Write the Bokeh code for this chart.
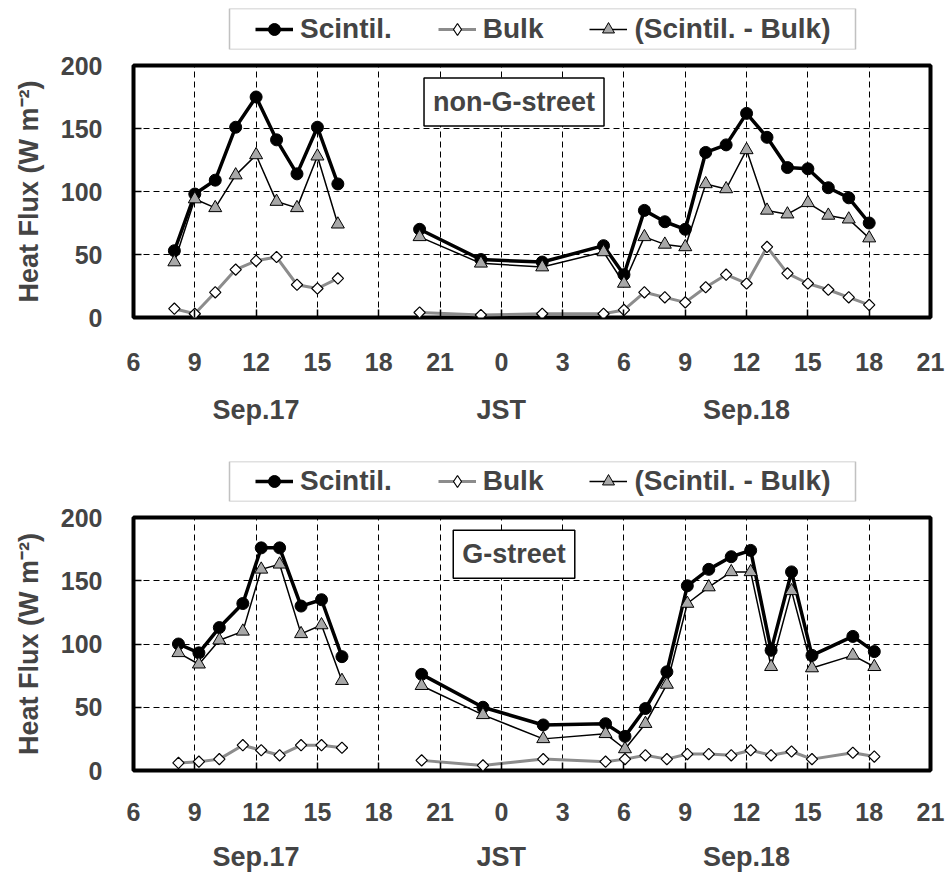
import numpy as np
from bokeh.plotting import figure
from bokeh.models import (FixedTicker, LinearAxis, Legend, LegendItem, Label, Range1d,
                          BoxAnnotation)
from bokeh.layouts import column
from bokeh.embed import file_html
from bokeh.resources import INLINE

NAN = np.nan

# ---- axis definitions (hours counted from Sep.17 00:00 JST) ----
hour_ticks = [6, 9, 12, 15, 18, 21, 24, 27, 30, 33, 36, 39, 42, 45]
hour_labels = ["6", "9", "12", "15", "18", "21", "0", "3", "6", "9", "12", "15", "18", "21"]
date_ticks = [12, 24, 36]
date_labels = ["Sep.17", "JST", "Sep.18"]
flux_ticks = [0, 50, 100, 150, 200]
series_names = ["Scintil.", "Bulk", "(Scintil. - Bulk)"]

# ---- non-G-street ----
ng_hour = [8, 9, 10, 11, 12, 13, 14, 15, 16, NAN,
           20, 23, 26, 29, 30, 31, 32, 33, 34, 35, 36, 37, 38, 39, 40, 41, 42]
ng_scintil = [53, 98, 109, 151, 175, 141, 114, 151, 106, NAN,
              70, 46, 44, 57, 34, 85, 76, 70, 131, 137, 162, 143, 119, 118, 103, 95, 75]
ng_bulk = [7, 3, 20, 38, 45, 48, 26, 23, 31, NAN,
           4, 2, 3, 3, 6, 20, 16, 12, 24, 34, 27, 56, 35, 27, 22, 16, 10]
ng_diff = [44, 94, 87, 113, 129, 92, 87, 128, 74, NAN,
           64, 43, 40, 52, 27, 64, 58, 56, 106, 102, 133, 85, 82, 91, 81, 78, 63]

# ---- G-street ----
g_hour = [8.2, 9.2, 10.2, 11.35, 12.25, 13.15, 14.2, 15.2, 16.2, NAN,
          20.1, 23.1, 26.05, 29.1, 30.05, 31.05, 32.1, 33.1, 34.15, 35.25, 36.2, 37.2, 38.2, 39.2, 41.2, 42.25]
g_scintil = [100, 93, 113, 132, 176, 176, 130, 135, 90, NAN,
             76, 50, 36, 37, 27, 49, 78, 146, 159, 169, 174, 95, 157, 91, 106, 94]
g_bulk = [6, 7, 9, 20, 16, 12, 20, 20, 18, NAN,
          8, 4, 9, 7, 9, 12, 9, 13, 13, 12, 16, 12, 15, 9, 14, 11]
g_diff = [93, 84, 103, 110, 159, 163, 108, 115, 71, NAN,
          67, 44, 25, 29, 17, 37, 68, 132, 145, 157, 157, 82, 142, 81, 91, 82]

FONT = "Liberation Sans"
X0, X1 = 6, 45
FRAME_W = 797
PX_PER_HOUR = FRAME_W / (X1 - X0)

STYLE_SCINT_LINE = dict(line_color="black", line_width=3.5)
STYLE_SCINT_MARK = dict(marker="circle", size=12, fill_color="black", line_color="black")
STYLE_BULK_LINE = dict(line_color="#8c8c8c", line_width=3)
STYLE_BULK_MARK = dict(marker="square", angle=np.pi / 4, size=8, fill_color="white",
                       line_color="black", line_width=1.2)
STYLE_BULK_LEGEND_MARK = dict(marker="diamond", size=12, fill_color="white",
                              line_color="black", line_width=1.2)
STYLE_DIFF_LINE = dict(line_color="black", line_width=1.5)
STYLE_DIFF_MARK = dict(marker="triangle", size=13, fill_color="#a8a8a8",
                       line_color="black", line_width=1)


def make_legend_fig(height, box_top, box_bottom, text_y):
    # small strip above each panel holding the legend; its frame spans the legend box height
    lf = figure(frame_width=FRAME_W, frame_height=box_bottom - box_top,
                x_range=Range1d(X0, X1), y_range=Range1d(0, 1),
                output_backend="svg", toolbar_location=None,
                x_axis_location=None, y_axis_location=None,
                min_border_left=133, min_border_right=21,
                min_border_top=box_top, min_border_bottom=height - box_bottom)
    lf.outline_line_color = None
    lf.xgrid.visible = False
    lf.ygrid.visible = False
    lf.border_fill_color = "white"
    # legend frame box (pixels 96..722 from the frame's left edge)
    lf.add_layout(BoxAnnotation(left=X0 + 96 / PX_PER_HOUR, right=X0 + 722 / PX_PER_HOUR,
                                fill_alpha=0, line_color="#333333", line_width=1.5))
    styles = [(STYLE_SCINT_LINE, STYLE_SCINT_MARK),
              (STYLE_BULK_LINE, STYLE_BULK_LEGEND_MARK),
              (STYLE_DIFF_LINE, STYLE_DIFF_MARK)]
    items = []
    for name, (ls, ms) in zip(series_names, styles):
        lr = lf.line(x=[NAN], y=[NAN], **ls)
        mr = lf.scatter(x=[NAN], y=[NAN], **ms)
        items.append(LegendItem(label=name, renderers=[lr, mr]))
    leg = Legend(items=items, orientation="horizontal", location=(122, text_y),
                 label_text_font=FONT, label_text_font_style="bold",
                 label_text_font_size="28px",
                 glyph_width=38, glyph_height=30, label_standoff=7, spacing=46,
                 padding=0, margin=0, border_line_color=None,
                 background_fill_alpha=0)
    lf.add_layout(leg)
    return lf


def make_panel(site, hours, scint, bulk, diff, border_bottom, frame_h, tick_standoff, date_standoff):
    x = np.array(hours, dtype=float)
    p = figure(frame_width=FRAME_W, frame_height=frame_h,
               x_range=Range1d(X0, X1), y_range=Range1d(0, 200),
               output_backend="svg", toolbar_location=None,
               min_border_left=133, min_border_right=21,
               min_border_top=15, min_border_bottom=border_bottom)
    p.outline_line_color = "black"
    p.outline_line_width = 4
    p.background_fill_color = "white"
    p.border_fill_color = "white"

    # grid
    p.xgrid.ticker = FixedTicker(ticks=hour_ticks[1:-1])
    p.ygrid.ticker = FixedTicker(ticks=[50, 100, 150])
    for g in (p.xgrid[0], p.ygrid[0]):
        g.grid_line_color = "black"
        g.grid_line_dash = "6 4"
        g.grid_line_width = 1

    # y axis
    ya = p.yaxis[0]
    ya.ticker = FixedTicker(ticks=flux_ticks)
    ya.axis_line_color = None
    ya.major_tick_in = 8
    ya.major_tick_out = 0
    ya.major_tick_line_width = 1.5
    ya.minor_tick_line_color = None
    ya.major_label_standoff = 31
    ya.major_label_text_font = FONT
    ya.major_label_text_font_style = "bold"
    ya.major_label_text_font_size = "25px"
    ya.axis_label = "Heat Flux (W m\u207b\u00b2)"
    ya.axis_label_text_font = FONT
    ya.axis_label_text_font_style = "bold"
    ya.axis_label_text_font_size = "27px"
    ya.axis_label_standoff = 14

    # x axis (hours)
    xa = p.xaxis[0]
    xa.ticker = FixedTicker(ticks=hour_ticks)
    xa.major_label_overrides = {t: s for t, s in zip(hour_ticks, hour_labels)}
    xa.axis_line_color = None
    xa.major_tick_in = 8
    xa.major_tick_out = 0
    xa.major_tick_line_width = 1.5
    xa.minor_tick_line_color = None
    xa.major_label_standoff = tick_standoff
    xa.major_label_text_font = FONT
    xa.major_label_text_font_style = "bold"
    xa.major_label_text_font_size = "25px"

    # second x axis (dates)
    da = LinearAxis(ticker=FixedTicker(ticks=date_ticks),
                    major_label_overrides={t: s for t, s in zip(date_ticks, date_labels)})
    da.axis_line_color = None
    da.major_tick_in = 0
    da.major_tick_out = 0
    da.minor_tick_line_color = None
    da.major_tick_line_color = None
    da.major_label_standoff = date_standoff
    da.major_label_text_font = FONT
    da.major_label_text_font_style = "bold"
    da.major_label_text_font_size = "27px"
    p.add_layout(da, "below")

    # series
    ys = np.array(scint, dtype=float)
    yb = np.array(bulk, dtype=float)
    yd = np.array(diff, dtype=float)
    p.line(x, ys, **STYLE_SCINT_LINE)
    p.scatter(x, ys, **STYLE_SCINT_MARK)
    p.line(x, yb, **STYLE_BULK_LINE)
    p.scatter(x, yb, **STYLE_BULK_MARK)
    p.line(x, yd, **STYLE_DIFF_LINE)
    p.scatter(x, yd, **STYLE_DIFF_MARK)

    lab = Label(x=24.62, y=171, text=site, text_align="center", text_baseline="middle",
                text_font=FONT, text_font_style="bold", text_font_size="27px",
                border_line_color="black", border_line_width=1.5,
                background_fill_color="white", background_fill_alpha=1.0,
                padding=9)
    p.add_layout(lab)
    return p


leg_top = make_legend_fig(50, 8, 49, 4)
top = make_panel("non-G-street", ng_hour, ng_scintil, ng_bulk, ng_diff, 122, 252, 35, 21)
leg_bot = make_legend_fig(63, 22, 62, 4)
bottom = make_panel("G-street", g_hour, g_scintil, g_bulk, g_diff, 108, 253, 32, 18)

layout = column(leg_top, top, leg_bot, bottom)
open("out.html", "w").write(file_html(layout, INLINE))
